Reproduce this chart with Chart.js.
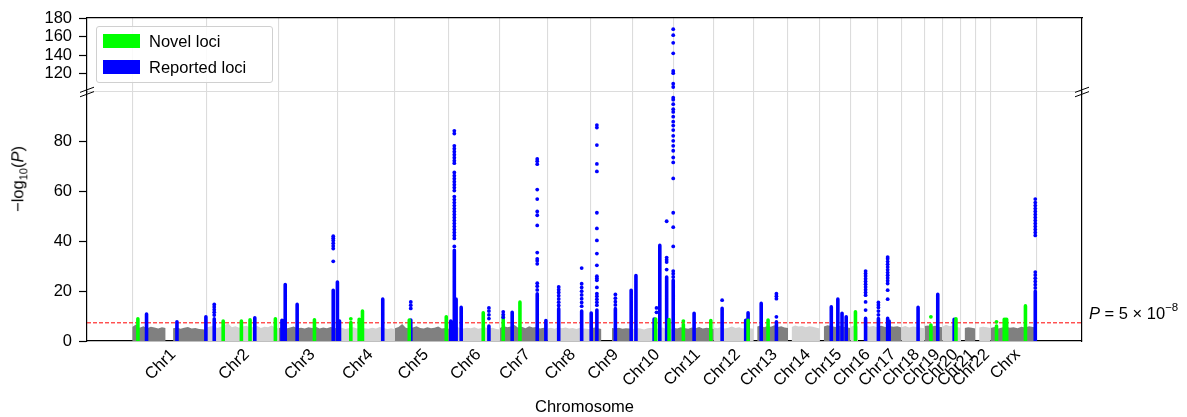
<!DOCTYPE html>
<html>
<head>
<meta charset="utf-8">
<script src="https://cdn.jsdelivr.net/npm/chart.js@4.4.1/dist/chart.umd.min.js"></script>
<style>
  html, body { margin: 0; padding: 0; background: #fff; }
  #wrap { position: relative; width: 1187px; height: 417px; overflow: hidden;
          font-family: "Liberation Sans", Arial, sans-serif; color: #000; }
  #topBox { position: absolute; left: 0; top: 0; }
  #botBox { position: absolute; left: 0; top: 84px; }
  #legend { position: absolute; left: 96px; top: 26px; width: 175px; height: 55px;
            border: 1px solid #d0d0d0; border-radius: 3px; background: rgba(255,255,255,0.85); }
  .lgRow { position: absolute; left: 6px; height: 14px; font-size: 16.5px; line-height: 14px; white-space: nowrap; }
  .lgRow span.patch { position: absolute; left: 0; top: 0; width: 37px; height: 14px; }
  .lgRow span.txt { position: absolute; left: 46px; top: 0; }
  #ytitle { position: absolute; left: 19px; top: 179px; transform: translate(-50%, -50%) rotate(-90deg);
            font-size: 16.5px; white-space: nowrap; }
  #ytitle sub { font-size: 11px; }
  #pnote { position: absolute; left: 1089px; top: 305px; font-size: 16.5px; line-height: 16.5px; white-space: nowrap; }
  #pnote .sup { font-size: 11.5px; position: relative; top: -8px; }
</style>
</head>
<body>
<div id="wrap">
  <div id="topBox"><canvas id="topChart" width="1187" height="100"></canvas></div>
  <div id="botBox"><canvas id="botChart" width="1187" height="340"></canvas></div>
  <div id="legend"></div>
  <div id="ytitle">&minus;log<sub>10</sub>(<i>P</i>)</div>
  <div id="pnote"><i>P</i> = 5 &times; 10<span class="sup">&minus;8</span></div>
</div>
<script>
// chromosomes and their lengths (Mb)
const chromNames = ['Chr1', 'Chr2', 'Chr3', 'Chr4', 'Chr5', 'Chr6', 'Chr7', 'Chr8', 'Chr9', 'Chr10', 'Chr11', 'Chr12',
    'Chr13', 'Chr14', 'Chr15', 'Chr16', 'Chr17', 'Chr18', 'Chr19', 'Chr20', 'Chr21', 'Chr22', 'Chrx'];
const chromLengths = [249, 243, 198, 191, 181, 171, 159, 146, 141, 136, 135, 134, 115, 107, 102, 90, 81, 78, 59, 63, 48, 51, 155];

const yTicksTop = [120, 140, 160, 180];
const yTicksBottom = [0, 20, 40, 60, 80];
const thresholdP = 5e-8;

// upper edge of the grey background cloud, per chromosome (null = no markers)
const backgroundTops = [
    [5.6, 6.6, 5.3, 5.9, 5.1, 5.7, 5.4, 5.0, 5.5, 5.2, null, 5.1, 5.4, 4.9, 5.3, 5.6, 5.0, 5.2, 4.8, 4.7, 4.4],
    [5.4, 5.8, 6.0, 5.2, 5.7, 6.4, 7.0, 5.5, 5.9, 5.3, 5.8, 6.1, 5.4, 5.6, 6.0, 5.2, 5.7, 5.5, 6.2, 5.3, 5.0],
    [5.2, 5.6, 5.0, 5.4, 5.8, 5.1, 5.3, 5.0, 5.5, 5.2, 5.7, 5.0, 5.4, 5.1, 5.6, 5.3, 4.9],
    [5.0, 5.3, 4.8, 5.2, 5.5, 5.0, 5.4, 5.1, 4.9, 5.3, 5.0, 5.6, 5.2, 4.8, 5.1, 4.7],
    [5.1, 5.6, 6.8, 5.3, 5.0, 5.4, 5.9, 5.2, 5.0, 5.5, 5.1, 5.3, 5.8, 5.0, 5.2, 4.9],
    [5.0, 5.4, 5.8, 5.2, 5.0, 5.3, 5.1, 5.5, 4.9, 5.2, 5.4, 5.0, 5.3, 4.8, 4.6],
    [5.2, 6.0, 5.5, 5.8, 6.4, 5.3, 5.7, 5.1, 5.9, 5.4, 5.6, 5.0, 5.3, 4.8],
    [5.0, 5.3, 4.9, 5.5, 5.1, 5.4, 5.0, 5.2, 4.8, 5.3, 5.0, 4.9, 4.6],
    [5.0, 5.4, 5.1, 4.8, null, null, 5.2, 5.0, 5.3, 4.9, 5.1, 5.0, 4.7],
    [4.8, 5.2, 5.0, 4.6, 5.1, 5.3, 4.9, 5.0, 5.4, 4.8, 5.1, 4.6],
    [5.3, 5.0, 5.5, 5.2, 4.9, 5.4, 5.1, 5.6, 5.0, 5.3, 5.1, 4.8],
    [5.4, 5.1, 5.6, 5.0, 5.3, 5.8, 5.2, 5.5, 5.0, 5.4, 5.1, 4.9],
    [null, 5.8, 6.2, 5.5, 6.0, 5.7, 6.3, 5.6, 5.9, 5.4, 5.2],
    [null, 5.6, 6.2, 5.8, 6.0, 5.5, 5.9, 5.7, 5.3, 5.0],
    [null, 5.8, 6.3, 6.0, 5.6, 6.1, 5.7, 5.5, 5.2],
    [5.6, 6.2, 5.8, null, 6.4, 5.7, 6.0, 5.5],
    [5.8, 6.1, 5.6, 6.0, 5.7, 5.9, 5.4],
    [5.5, 6.0, 5.4, 5.8, 5.6, 5.3, 5.1],
    [6.0, 6.2, 5.8, 6.1, 5.7, 5.5],
    [5.7, 6.5, 5.9, 6.3, 5.6, 5.2],
    [null, 5.2, 5.5, 5.3, 5.0],
    [null, 5.4, 5.7, 5.5, 5.2],
    [5.2, 5.6, 5.0, 5.4, 5.8, 5.3, 5.5, 5.1, 5.7, 5.4, 5.9, 5.6, 5.3]
];

// [chromosome, position Mb, top of the solid column]
const novelLoci = [
    [1, 19, 8.9], [2, 56, 8.0], [2, 117, 8.0], [2, 146, 8.5], [2, 231, 8.9], [3, 119, 8.5],
    [4, 43, 7.4], [4, 71, 8.7], [4, 82, 12.0], [5, 48, 8.4], [5, 172, 9.7], [6, 115, 11.3],
    [7, 11, 10.0], [7, 67, 15.6], [10, 76, 8.8], [10, 121, 8.6], [11, 33, 6.6], [11, 125, 8.2],
    [12, 115, 8.3], [13, 48, 8.4], [16, 17, 11.7], [19, 21, 6.4], [20, 46, 8.9],
    [23, 20, 6.0], [23, 46, 8.7], [23, 50, 8.7], [23, 54, 8.7], [23, 117, 14.1]
];
const novelDots = [
    [4, 43, [8.9]], [11, 33, [8.0]], [19, 21, [9.7]], [23, 20, [7.7]]
];

const reportedLoci = [
    [1, 48, 10.8], [1, 150, 7.7], [1, 247, 9.7], [2, 26, 8.9], [2, 162, 9.3],
    [3, 10, 8.3], [3, 21, 22.7], [3, 61, 14.7], [3, 182, 20.4], [3, 196, 23.7],
    [4, 5, 8.0], [4, 150, 16.8], [5, 53, 8.4],
    [6, 6, 8.0], [6, 18, 36.4], [6, 24, 16.8], [6, 41, 13.5], [6, 134, 6.0],
    [7, 41, 11.5], [7, 125, 19.0], [7, 154, 8.2],
    [8, 38, 13.0], [8, 115, 12.0],
    [9, 1, 11.2], [9, 20, 12.4], [9, 82, 13.0], [9, 135, 20.4],
    [10, 10, 26.3], [10, 71, 8.8], [10, 90, 38.4], [10, 113, 25.7], [10, 135, 24.4],
    [11, 69, 11.1], [12, 28, 13.1], [12, 107, 8.3], [12, 115, 11.3],
    [13, 25, 15.1], [13, 76, 7.7],
    [15, 38, 13.7], [15, 60, 16.8], [15, 74, 11.1], [15, 88, 9.7],
    [16, 51, 9.1], [17, 4, 9.0], [17, 35, 9.1], [17, 40, 8.0],
    [18, 56, 13.5], [19, 44, 18.8], [20, 40, 8.7], [23, 150, 20.0]
];
// single markers above the solid columns
const reportedDots = [
    [2, 26, [10.4, 11.5, 12.6, 13.7, 14.7]],
    [3, 182, [32.0, 37.1, 38.2, 39.3, 40.4, 41.3, 42.1]],
    [5, 53, [13.1, 14.4, 15.7]],
    [6, 18, [38.0, 41.2, 42.4, 43.6, 44.8, 46.0, 47.2, 48.4, 49.6, 50.8, 52.0, 53.2, 54.4, 55.6, 56.8, 58.0,
             60.4, 61.6, 62.8, 64.0, 65.2, 66.4, 67.7, 71.4, 72.4, 73.6, 74.8, 76.0, 77.2, 78.4, 83.3, 84.4]],
    [6, 134, [9.0, 10.5, 12.0, 13.3]],
    [7, 11, [9.5, 10.6, 11.7]],
    [7, 125, [20.5, 22.0, 23.2, 31.0, 32.2, 33.0, 35.5, 46.4, 50.5, 52.0, 57.0, 60.8, 71.0, 72.2, 73.1]],
    [8, 38, [14.3, 15.6, 16.9, 18.2, 19.5, 20.6, 21.7]],
    [8, 115, [14.0, 15.5, 17.0, 18.5, 20.0, 21.5, 23.0, 29.3]],
    [9, 20, [14.4, 15.6, 16.8, 18.0, 19.0, 21.5, 24.4, 25.2, 26.0, 30.4, 35.1, 40.4, 45.2, 51.5, 68.1, 71.1, 78.7, 85.7, 86.7]],
    [9, 82, [14.5, 15.8, 17.2, 18.7]],
    [10, 79, [11.5, 13.3]],
    [10, 113, [28.7, 31.7, 32.6, 33.5, 48.1]],
    [10, 135, [25.7, 27.0, 28.1, 38.0, 45.7, 51.5, 65.3, 71.7, 73.7, 76.4, 78.4, 80.4, 82.4, 84.7, 86.5, 88.1, 90.1,
               92.0, 93.1, 95.1, 96.9, 97.7, 105.4, 108.9, 120.4, 122.8, 141.8, 153.2, 161.4, 167.9]],
    [12, 28, [16.4]],
    [13, 76, [9.7, 17.0, 18.0, 19.0]],
    [16, 51, [12.4, 15.7, 18.4, 19.5, 20.6, 21.7, 22.8, 23.9, 25.0, 26.1, 27.1, 28.1]],
    [17, 4, [10.5, 12.0, 13.5, 14.5, 15.5]],
    [17, 35, [16.8, 20.4, 23.1, 24.2, 25.3, 26.4, 27.5, 28.6, 29.7, 30.8, 31.9, 33.0, 33.7]],
    [23, 150, [21.3, 22.6, 23.9, 25.2, 26.5, 27.7, 42.4, 43.6, 44.8, 46.0, 47.2, 48.4, 49.6, 50.8, 52.0, 53.2, 54.4, 55.6, 57.0]]
];

const novelColor = '#00ff00';
const reportedColor = '#0000ff';
const darkGrey = '#808080';
const lightGrey = '#d3d3d3';
const gridGrey = '#dcdcdc';
const fontFamily = "'Liberation Sans', Arial, sans-serif";
const tickFont = { family: fontFamily, size: 16.5 };

// cumulative positions
const chromStarts = [];
let total = 0;
chromLengths.forEach(len => { chromStarts.push(total); total += len; });
const boundaries = chromStarts.concat([total]);
const centers = chromStarts.map((s, i) => s + chromLengths[i] / 2);
const xMin = -0.05 * total;
const xMax = total * 1.05;
const threshold = -Math.log10(thresholdP);

const gpos = (chr, pos) => chromStarts[chr - 1] + pos;

function columnData(loci) {
    const out = [];
    loci.forEach(([c, p, top]) => {
        const x = gpos(c, p);
        out.push({ x: x, y: 0 }, { x: x, y: top }, { x: x, y: null });
    });
    return out;
}

function dotData(list) {
    const out = [];
    list.forEach(([c, p, vals]) => vals.forEach(v => out.push({ x: gpos(c, p), y: v })));
    return out;
}

function buildDatasets() {
    const sets = [];
    // background clouds, alternating grey
    backgroundTops.forEach((tops, i) => {
        const len = chromLengths[i];
        sets.push({
            type: 'line',
            data: tops.map((v, j) => ({ x: chromStarts[i] + j * len / (tops.length - 1), y: v })),
            fill: 'origin',
            backgroundColor: i % 2 === 0 ? darkGrey : lightGrey,
            borderWidth: 0,
            pointRadius: 0,
            spanGaps: false,
            order: 6
        });
    });
    // genome-wide significance line
    sets.push({
        type: 'line',
        data: [{ x: xMin, y: threshold }, { x: xMax, y: threshold }],
        borderColor: '#ff0000',
        borderWidth: 1,
        borderDash: [4, 2],
        pointRadius: 0,
        fill: false,
        order: 4
    });
    sets.push({
        type: 'line',
        label: 'Reported loci',
        data: columnData(reportedLoci),
        borderColor: reportedColor,
        backgroundColor: reportedColor,
        borderWidth: 3.6,
        borderCapStyle: 'round',
        pointRadius: 0,
        fill: false,
        spanGaps: false,
        clip: 0,
        order: 3
    });
    sets.push({
        type: 'line',
        label: 'Novel loci',
        data: columnData(novelLoci),
        borderColor: novelColor,
        backgroundColor: novelColor,
        borderWidth: 3.6,
        borderCapStyle: 'round',
        pointRadius: 0,
        fill: false,
        spanGaps: false,
        clip: 0,
        order: 2
    });
    sets.push({
        type: 'scatter',
        data: dotData(novelDots),
        backgroundColor: novelColor,
        pointRadius: 1.9,
        pointBorderWidth: 0,
        order: 1
    });
    sets.push({
        type: 'scatter',
        data: dotData(reportedDots),
        backgroundColor: reportedColor,
        pointRadius: 1.9,
        pointBorderWidth: 0,
        order: 0
    });
    return sets;
}

// force exact box sizes so the two panels share the same plot edges
function fixBox(w, h) {
    return s => {
        if (w !== null) s.width = w;
        if (h !== null) s.height = h;
        s.paddingTop = 0; s.paddingBottom = 0; s.paddingLeft = 0; s.paddingRight = 0;
    };
}

const gridAxis = (extra) => Object.assign({
    type: 'linear', min: xMin, max: xMax, position: 'bottom', weight: 0,
    afterBuildTicks: s => { s.ticks = boundaries.map(v => ({ value: v })); },
    afterFit: fixBox(null, 0),
    ticks: { display: false },
    grid: { color: gridGrey, lineWidth: 1.1, drawTicks: false }
}, extra);

const yAxis = (min, max, ticks) => ({
    type: 'linear', min: min, max: max, position: 'left',
    afterBuildTicks: s => { s.ticks = ticks.map(v => ({ value: v })); },
    afterFit: fixBox(87, null),
    grid: { drawOnChartArea: false, drawTicks: true, tickLength: 8, tickColor: '#000', tickWidth: 1.2 },
    border: { color: '#000', width: 1.2 },
    ticks: { font: tickFont, color: '#000', padding: 7 }
});

const rightSpine = {
    type: 'linear', min: 0, max: 1, position: 'right',
    afterFit: fixBox(0, null),
    grid: { display: false }, ticks: { display: false },
    border: { color: '#000', width: 1.2 }
};

const breakMarks = {
    id: 'breakMarks',
    afterDraw(chart) {
        const { ctx, chartArea: a } = chart;
        ctx.save();
        ctx.strokeStyle = '#000';
        ctx.lineWidth = 1;
        [a.left, a.right].forEach(cx => {
            [-2.2, 2.2].forEach(o => {
                ctx.beginPath();
                ctx.moveTo(cx - 7, a.bottom + o + 2.6);
                ctx.lineTo(cx + 7, a.bottom + o - 2.6);
                ctx.stroke();
            });
        });
        ctx.restore();
    }
};

const common = {
    responsive: false,
    animation: false,
    devicePixelRatio: 1,
    events: [],
    plugins: { legend: { display: false }, tooltip: { enabled: false } }
};

// upper panel (broken axis, 100-180)
const topChart = new Chart(document.getElementById('topChart'), {
    type: 'scatter',
    data: { datasets: buildDatasets() },
    options: Object.assign({}, common, {
        layout: { padding: { left: 0, right: 105, top: 18, bottom: 8 } },
        scales: {
            x: gridAxis({ border: { display: true, color: gridGrey, width: 1.1 } }),
            xTop: {
                type: 'linear', min: xMin, max: xMax, position: 'top',
                afterFit: fixBox(null, 0),
                grid: { display: false }, ticks: { display: false },
                border: { color: '#000', width: 1.2 }
            },
            y: yAxis(100, 180, yTicksTop),
            yR: rightSpine
        }
    }),
    plugins: [breakMarks]
});

// lower panel (0-100) with chromosome labels
const botChart = new Chart(document.getElementById('botChart'), {
    type: 'scatter',
    data: { datasets: buildDatasets() },
    options: Object.assign({}, common, {
        layout: { padding: { left: 0, right: 105, top: 8, bottom: 0 } },
        scales: {
            x: gridAxis({ border: { display: true, color: '#000', width: 1.2 } }),
            xl: {
                type: 'linear', min: xMin, max: xMax, position: 'bottom', weight: 1,
                afterBuildTicks: s => { s.ticks = centers.map(v => ({ value: v })); },
                afterFit: fixBox(null, 83),
                grid: { display: false, drawTicks: false },
                border: { display: false },
                ticks: {
                    autoSkip: false, minRotation: 45, maxRotation: 45, padding: 4, labelOffset: 4,
                    font: tickFont, color: '#000',
                    callback: (v, i) => chromNames[i]
                },
                title: { display: true, text: 'Chromosome', font: tickFont, color: '#000', padding: { top: 0, bottom: 7 } }
            },
            y: yAxis(0, 100, yTicksBottom),
            yR: rightSpine
        }
    })
});

// legend box built from the labelled datasets
const legendEl = document.getElementById('legend');
botChart.data.datasets.filter(d => d.label).reverse().forEach((d, i) => {
    const row = document.createElement('div');
    row.className = 'lgRow';
    row.style.top = (7 + i * 26) + 'px';
    row.innerHTML = '<span class="patch" style="background:' + d.borderColor + '"></span><span class="txt">' + d.label + '</span>';
    legendEl.appendChild(row);
});
</script>
</body>
</html>
